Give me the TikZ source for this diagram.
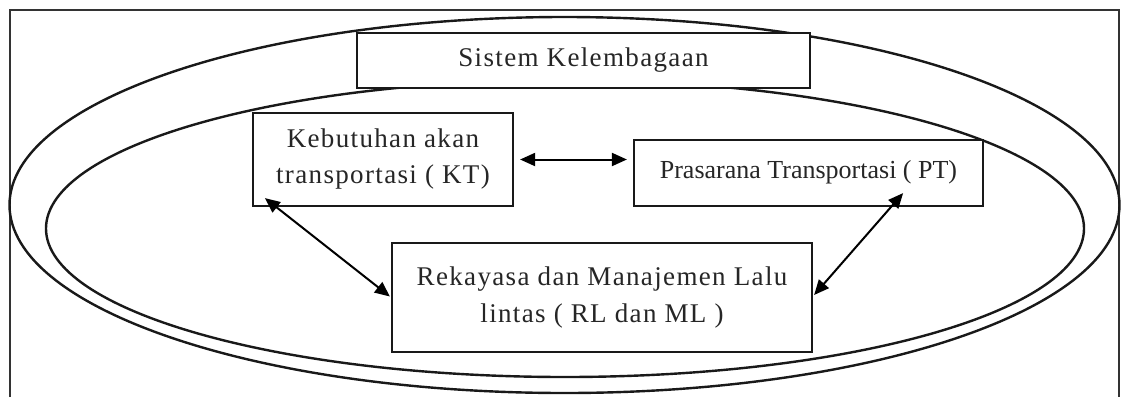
\documentclass[tikz,border=0pt]{standalone}
\usepackage{fontspec}
\setmainfont{Liberation Serif}
\newfontfamily\widefont[LetterSpace=5]{Liberation Serif}
\usetikzlibrary{arrows.meta}
\begin{document}
\begin{tikzpicture}[x=1pt,y=-1pt,
  box/.style={draw=black!90, line width=2.2pt, inner sep=0pt, align=center, text=black!85},
  oval/.style={draw=black!90, line width=2.4pt},
  link/.style={draw=black, line width=2pt, {Triangle[length=15pt,width=13pt]}-{Triangle[length=15pt,width=13pt]}},
  lbl/.style={font=\widefont\fontsize{27}{36}\selectfont}]
\useasboundingbox (0,0) rectangle (1121,397);
\fill[white] (0,0) rectangle (1121,397);
% frame
\draw[black!80, line width=2pt] (10,397) -- (10,10) -- (1119,10) -- (1119,397);
% ellipses
\draw[oval] (564.5,205) ellipse [x radius=555, y radius=188];
\draw[oval] (565,228.5) ellipse [x radius=519, y radius=148.5];
% boxes
\node[box, lbl, fill=white, minimum width=453pt, minimum height=55pt] (sk) at (583.5,60.5) {Sistem Kelembagaan};
\node[box, lbl, fill=white, minimum width=260pt, minimum height=93pt] (kt) at (383,159.5) {Kebutuhan akan\\transportasi ( KT)};
\node[box, font=\fontsize{26}{35}\selectfont, fill=white, minimum width=349pt, minimum height=66pt, text depth=8pt] (pt) at (808.5,173) {Prasarana Transportasi ( PT)};
\node[box, lbl, fill=white, minimum width=420pt, minimum height=109pt] (rl) at (602,297.5) {Rekayasa dan Manajemen Lalu\\lintas ( RL dan ML )};
% connectors
\draw[link, shorten <=6pt, shorten >=6pt] (kt.east) -- (pt.west |- kt.east);
\draw[link] ([shift={(13,-9)}]kt.south west) -- ([shift={(-1,-1)}]rl.west);
\draw[link] ([shift={(-81,-14)}]pt.south east) -- ([shift={(1,-2.5)}]rl.east);
\end{tikzpicture}
\end{document}
